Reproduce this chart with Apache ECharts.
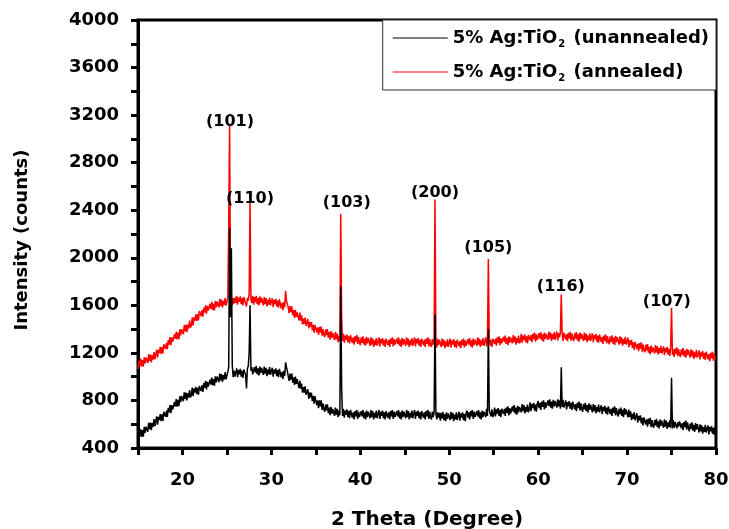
<!DOCTYPE html>
<html>
<head>
<meta charset="utf-8">
<script src="https://cdn.jsdelivr.net/npm/echarts@6/dist/echarts.min.js"></script>
<style>html,body{margin:0;padding:0;background:#fff}#c{width:729px;height:529px}</style>
</head>
<body>
<div id="c"></div>
<script>
// 2-theta sampling grid: 15 to 80 degrees, step 0.1
const thetaStart = 15, thetaStep = 0.1;

const unannealed = [
465,536,497,558,494,550,496,577,528,579,
585,536,612,558,614,550,611,577,643,584,
600,666,597,663,634,685,626,682,628,704,
715,662,714,661,738,700,762,694,761,723,
715,787,749,811,748,805,752,834,786,838,
845,794,868,812,866,800,859,823,887,826,
845,908,836,899,867,915,853,906,849,922,
935,879,928,872,946,905,964,893,957,916,
905,974,933,992,926,980,924,1003,952,1001,
1005,953,1026,969,1022,955,1013,976,1039,977,
985,1040,1080,2250,1500,2080,1100,995,1050,1000,
1010,1070,995,1055,1020,1065,1000,1050,990,1060,
1075,1015,900,1065,1090,1200,1600,1050,1080,1020,
1015,1080,1035,1090,1020,1070,1010,1085,1030,1075,
1070,1015,1085,1025,1075,1005,1060,1020,1080,1015,
1015,1075,1000,1060,1025,1070,1005,1055,995,1065,
1055,995,1040,980,1050,1005,1120,1080,1045,1000,
965,1025,975,1025,950,995,930,1000,940,980,
965,903,966,899,942,865,913,866,919,847,
840,894,813,867,826,865,794,838,772,836,
825,760,800,735,800,750,800,720,775,725,
705,766,717,768,694,740,676,747,688,729,
725,670,740,680,730,660,715,675,1760,900,
670,730,655,715,680,725,660,710,650,720,
715,655,700,640,710,665,720,645,705,660,
645,710,665,720,650,700,640,715,660,705,
705,650,720,660,710,640,695,655,715,650,
660,720,645,705,670,715,650,700,640,710,
715,655,700,640,710,665,720,645,705,660,
645,710,665,720,650,700,640,715,660,705,
705,650,720,660,710,640,695,655,715,650,
660,720,645,705,670,715,650,700,640,710,
715,655,700,640,710,665,720,645,705,660,
640,705,660,700,1520,690,640,700,655,695,
630,695,650,705,635,685,625,700,645,690,
690,635,705,645,695,625,680,640,700,635,
645,705,630,690,655,700,635,685,625,695,
715,655,700,640,710,665,720,645,705,660,
645,710,665,720,650,700,640,715,660,705,
715,660,730,670,1400,720,705,665,725,660,
680,740,665,725,690,735,670,720,660,730,
745,685,730,670,740,695,750,675,735,690,
685,750,705,760,690,740,680,755,700,745,
755,700,770,710,760,690,745,705,765,700,
725,785,710,770,735,780,715,765,705,775,
795,735,780,720,790,745,800,725,785,740,
735,800,755,810,740,790,730,805,750,795,
795,740,810,750,800,730,1080,745,805,740,
740,800,725,785,750,795,730,780,720,790,
785,725,770,710,780,735,790,715,775,730,
705,770,725,780,710,760,700,775,720,765,
755,700,770,710,760,690,745,705,765,700,
700,760,685,745,710,755,690,740,680,750,
745,685,730,670,740,695,750,675,735,690,
665,730,685,740,670,720,660,735,680,725,
715,657,724,661,708,635,687,644,701,633,
635,692,614,671,633,675,607,654,591,658,
660,598,641,579,647,600,653,576,634,587,
570,635,590,645,575,625,565,640,585,630,
625,570,640,580,630,560,615,575,635,570,
990,565,635,570,620,630,565,615,580,625,
625,565,610,550,620,575,630,555,615,570,
540,605,560,615,545,595,535,610,555,600,
585,530,600,540,590,520,575,535,595,530,
530,590,515,575,540,585,520,570,510,580,
540
];

const annealed = [
1065,1134,1093,1152,1086,1140,1084,1163,1112,1161,
1165,1114,1188,1132,1186,1120,1179,1143,1207,1146,
1160,1227,1159,1226,1198,1250,1192,1249,1196,1273,
1285,1232,1284,1231,1308,1270,1332,1264,1331,1293,
1285,1356,1317,1378,1314,1370,1316,1397,1348,1399,
1405,1357,1434,1381,1438,1375,1437,1404,1471,1413,
1430,1498,1431,1499,1472,1525,1468,1526,1474,1552,
1565,1510,1560,1505,1580,1540,1600,1530,1595,1555,
1545,1613,1571,1629,1562,1615,1558,1636,1584,1632,
1635,1582,1654,1596,1648,1580,1637,1604,1661,1598,
1595,1665,2250,3120,1700,1670,1600,1660,1615,1665,
1620,1680,1605,1665,1630,1675,1610,1660,1600,1670,
1675,1615,1590,1660,1640,1700,2490,1650,1620,1680,
1605,1670,1625,1680,1610,1660,1600,1675,1620,1665,
1655,1600,1670,1610,1660,1590,1645,1605,1665,1600,
1600,1660,1585,1645,1610,1655,1590,1640,1580,1650,
1635,1575,1620,1560,1630,1585,1720,1640,1625,1580,
1535,1594,1543,1592,1516,1560,1494,1563,1502,1541,
1535,1474,1538,1472,1516,1440,1489,1443,1497,1426,
1430,1485,1405,1460,1420,1460,1390,1435,1370,1435,
1435,1372,1414,1351,1418,1370,1422,1344,1401,1353,
1335,1397,1349,1401,1328,1375,1312,1384,1326,1368,
1365,1308,1376,1314,1362,1290,1343,1301,2370,1500,
1300,1360,1285,1345,1310,1355,1290,1340,1280,1350,
1345,1285,1330,1270,1340,1295,1350,1275,1335,1290,
1265,1330,1285,1340,1270,1320,1260,1335,1280,1325,
1315,1260,1330,1270,1320,1250,1305,1265,1325,1260,
1270,1330,1255,1315,1280,1325,1260,1310,1250,1320,
1325,1265,1310,1250,1320,1275,1330,1255,1315,1270,
1255,1320,1275,1330,1260,1310,1250,1325,1270,1315,
1315,1260,1330,1270,1320,1250,1305,1265,1325,1260,
1270,1330,1255,1315,1280,1325,1260,1310,1250,1320,
1325,1265,1310,1250,1320,1275,1330,1255,1315,1270,
1250,1315,1270,1320,2490,1305,1245,1320,1265,1310,
1305,1250,1320,1260,1310,1240,1295,1255,1315,1250,
1260,1320,1245,1305,1270,1315,1250,1300,1240,1310,
1315,1255,1300,1240,1310,1265,1320,1245,1305,1260,
1250,1315,1270,1325,1255,1305,1245,1320,1265,1310,
1315,1260,1330,1270,1320,1250,1305,1265,1325,1260,
1270,1330,1255,1315,1990,1325,1260,1310,1250,1320,
1335,1275,1320,1260,1330,1285,1340,1265,1325,1280,
1270,1335,1290,1345,1275,1325,1265,1340,1285,1330,
1335,1280,1350,1290,1340,1270,1325,1285,1345,1280,
1300,1360,1285,1345,1310,1355,1290,1340,1280,1350,
1365,1305,1350,1290,1360,1315,1370,1295,1355,1310,
1300,1365,1320,1375,1305,1355,1295,1370,1315,1360,
1365,1310,1380,1320,1370,1300,1355,1315,1375,1310,
1320,1380,1305,1365,1330,1375,1690,1360,1300,1370,
1373,1313,1358,1298,1368,1323,1378,1303,1363,1318,
1300,1365,1320,1375,1305,1355,1295,1370,1315,1360,
1355,1300,1370,1310,1360,1290,1345,1305,1365,1300,
1305,1365,1290,1350,1315,1360,1295,1345,1285,1355,
1350,1290,1335,1275,1345,1300,1355,1280,1340,1295,
1273,1338,1293,1348,1278,1328,1268,1343,1288,1333,
1325,1270,1340,1280,1330,1260,1315,1275,1335,1270,
1270,1327,1249,1306,1268,1310,1242,1289,1226,1293,
1295,1233,1276,1214,1282,1235,1288,1211,1269,1222,
1205,1268,1221,1274,1202,1250,1188,1261,1204,1247,
1250,1195,1265,1205,1255,1185,1240,1200,1260,1195,
1195,1255,1180,1240,1205,1250,1185,1235,1175,1245,
1580,1182,1227,1167,1237,1192,1247,1172,1232,1187,
1165,1230,1185,1240,1170,1220,1160,1235,1180,1225,
1215,1160,1230,1170,1220,1150,1205,1165,1225,1160,
1160,1220,1145,1205,1170,1215,1150,1200,1140,1210,
1205,1145,1190,1130,1200,1155,1210,1135,1195,1150,
1150
];

const peakNames = ['(101)', '(110)', '(103)', '(200)', '(105)', '(116)', '(107)'];
const peakTheta = [25.35, 27.6, 38.47, 48.4, 54.4, 62.55, 74.47];
const peakLabelIntensity = [3142, 2494, 2463, 2547, 2080, 1752, 1631];

const seriesNames = ['5% Ag:TiO2 (unannealed)', '5% Ag:TiO2 (annealed)'];
const xTicks = { min: 15, max: 80, interval: 5 };
const yTicks = { min: 400, max: 4000, interval: 200 };

const toPairs = arr => arr.map((v, i) => [+(thetaStart + i * thetaStep).toFixed(1), v]);

const FONT = 'DejaVu Sans';
const chart = echarts.init(document.getElementById('c'), null, { renderer: 'canvas' });

chart.setOption({
  animation: false,
  backgroundColor: '#fff',
  grid: {
    left: 138, right: 13, top: 20, bottom: 81,
    containLabel: false, outerBoundsMode: 'none',
    show: true, borderColor: '#000', borderWidth: 3, backgroundColor: 'transparent'
  },
  legend: {
    data: seriesNames,
    orient: 'vertical',
    right: 13, top: 20,
    padding: [9, 7, 7, 10],
    itemGap: 14,
    icon: 'rect',
    itemWidth: 55, itemHeight: 1,
    borderColor: '#333', borderWidth: 1,
    backgroundColor: '#fff',
    formatter: name => {
      const m = name.match(/^(.*TiO)2(.*)$/);
      return '{t|' + m[1] + '}{s|2}{t|' + m[2] + '}';
    },
    textStyle: {
      rich: {
        t: { fontFamily: FONT, fontWeight: 'bold', fontSize: 18, color: '#000', lineHeight: 22, verticalAlign: 'middle' },
        s: { fontFamily: FONT, fontWeight: 'bold', fontSize: 10, color: '#000', lineHeight: 11, verticalAlign: 'bottom', padding: [0, 2, 0, 1] }
      }
    }
  },
  xAxis: {
    type: 'value',
    min: xTicks.min, max: xTicks.max, interval: xTicks.interval,
    name: '2 Theta (Degree)',
    nameLocation: 'middle', nameGap: 62,
    nameTextStyle: { fontFamily: FONT, fontWeight: 'bold', fontSize: 20, color: '#000' },
    axisLine: { lineStyle: { color: '#000', width: 3 } },
    axisTick: { inside: false, length: 7, lineStyle: { width: 3, color: '#000' } },
    axisLabel: {
      margin: 23,
      fontFamily: FONT, fontWeight: 'bold', fontSize: 18, color: '#000',
      formatter: v => (v % 10 === 0 ? String(v) : '')
    },
    splitLine: { show: false }
  },
  yAxis: {
    type: 'value',
    min: yTicks.min, max: yTicks.max, interval: yTicks.interval,
    name: 'Intensity (counts)',
    nameLocation: 'middle', nameGap: 107,
    nameTextStyle: { fontFamily: FONT, fontWeight: 'bold', fontSize: 18, color: '#000', padding: [0, 12, 0, 0] },
    axisLine: { show: true, lineStyle: { color: '#000', width: 3 } },
    axisTick: { show: true, inside: false, length: 7, lineStyle: { width: 3, color: '#000' } },
    axisLabel: {
      margin: 19,
      fontFamily: FONT, fontWeight: 'bold', fontSize: 18, color: '#000',
      formatter: v => (v % 400 === 0 ? String(v) : '')
    },
    splitLine: { show: false }
  },
  series: [
    {
      name: seriesNames[1], type: 'line', data: toPairs(annealed),
      symbol: 'none', color: '#ff0000',
      lineStyle: { color: '#ff0000', width: 1.5 }, z: 2
    },
    {
      name: seriesNames[0], type: 'line', data: toPairs(unannealed),
      symbol: 'none', color: '#000000',
      lineStyle: { color: '#000000', width: 1.5 }, z: 3
    },
    {
      name: 'peaks', type: 'scatter', symbolSize: 0, silent: true, z: 5,
      data: peakNames.map((n, i) => ({ value: [peakTheta[i], peakLabelIntensity[i]], name: n })),
      label: {
        show: true, position: 'inside', formatter: p => p.name,
        fontFamily: FONT, fontWeight: 'bold', fontSize: 16, color: '#000',
        textBorderWidth: 0, opacity: 1
      }
    }
  ]
});
</script>
</body>
</html>
